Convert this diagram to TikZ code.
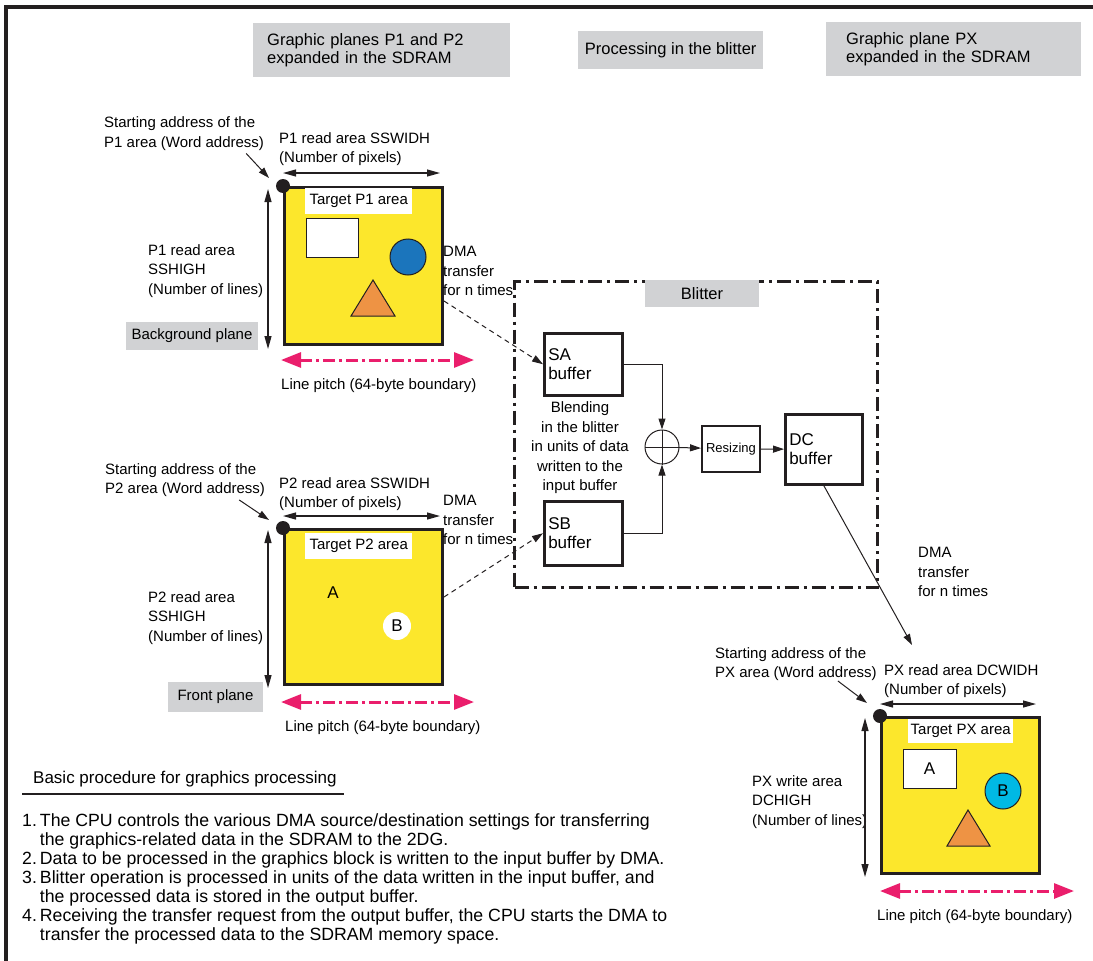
\documentclass[tikz,border=0pt]{standalone}
\usepackage{fontspec}
\setmainfont{Liberation Sans}
\usetikzlibrary{arrows.meta, positioning, calc}
\definecolor{hdrgray}{HTML}{D1D2D4}
\definecolor{planeyellow}{HTML}{FCE72C}
\definecolor{dotblue}{HTML}{1B75BC}
\definecolor{dotcyan}{HTML}{00B9E4}
\definecolor{triorange}{HTML}{EE9344}
\definecolor{pitchpink}{HTML}{EA1E6C}
\definecolor{inkblack}{HTML}{231F20}

\begin{document}
\begin{tikzpicture}[
    x=1pt, y=-1pt,
    hdr/.style={fill=hdrgray, inner sep=0pt, font=\fontsize{16.5}{18}\selectfont},
    lbl/.style={inner sep=0pt, align=left, font=\fontsize{15}{19.5}\selectfont},
    plane/.style={draw=inkblack, line width=3pt, fill=planeyellow, minimum width=158pt, minimum height=157pt, inner sep=0pt, anchor=north west},
    corner/.style={circle, fill=inkblack, minimum size=14pt, inner sep=0pt},
    tgt/.style={fill=white, inner sep=0pt, minimum width=107pt, minimum height=26pt, anchor=north west, font=\fontsize{15}{18}\selectfont},
    obj/.style={draw=inkblack, line width=1pt, inner sep=0pt, font=\fontsize{17}{18}\selectfont},
    buf/.style={draw=inkblack, line width=2.5pt, align=left, inner ysep=0pt, inner xsep=4pt, text width=70pt, anchor=north west, font=\fontsize{17}{18.5}\selectfont},
    arr/.style={-{Triangle[length=11pt,width=7pt]}, line width=1pt, inkblack},
    dimarr/.style={{Triangle[length=13pt,width=7pt]}-{Triangle[length=13pt,width=7pt]}, line width=1.2pt, inkblack},
    pitch/.style={{Triangle[length=20pt,width=15pt]}-{Triangle[length=20pt,width=15pt]}, line width=3pt, pitchpink, dash pattern=on 12pt off 4pt on 3pt off 4pt},
    dma/.style={-{Triangle[length=11pt,width=7pt]}, line width=1pt, inkblack, dash pattern=on 5pt off 4pt}
]
\useasboundingbox (0,0) rectangle (1093,961);
\draw[line width=3.5pt, inkblack] (6,961) -- (6,7) -- (1093,7);

% headers
\node[hdr, anchor=north west, minimum width=257pt, minimum height=54pt, text width=229pt, inner xsep=14pt, align=left] (h1) at (253,23) {Graphic planes P1 and P2\\expanded in the SDRAM};
\node[hdr, anchor=north west, minimum width=185pt, minimum height=38pt] (h2) at (578,31) {Processing in the blitter};
\node[hdr, anchor=north west, minimum width=255pt, minimum height=54pt, text width=215pt, inner xsep=20pt, align=left] (h3) at (826,22) {Graphic plane PX\\expanded in the SDRAM};

% background plane P1
\node[plane] (p1) at (283,186) {};
\node[corner] (c1) at (p1.north west) {};
\node[tgt] (t1) at (305,188) {Target P1 area};
\node[obj, fill=white, minimum width=52pt, minimum height=39pt] (r1) at (332,237.5) {};
\node[obj, circle, fill=dotblue, minimum size=36pt] (o1) at (408,257) {};
\filldraw[fill=triorange, draw=inkblack, line width=1pt] (373,280) -- (395,316) -- (351,316) -- cycle;
\node[lbl, anchor=west] (sa1) at (104,133.5) {Starting address of the\\P1 area (Word address)};
\coordinate[above left=8pt and 14pt of c1.center] (tip1);
\draw[arr] ([xshift=-18pt,yshift=-3pt]sa1.south east) -- (tip1);
\node[lbl, above right=20pt and -4pt of p1.north west] (w1) {P1 read area SSWIDH\\(Number of pixels)};
\draw[dimarr] ([yshift=13pt]p1.north west) -- ([xshift=-4pt,yshift=13pt]p1.north east);
\node[lbl, anchor=west] (hg1) at (148,271) {P1 read area\\SSHIGH\\(Number of lines)};
\draw[dimarr] ([xshift=-15pt,yshift=-3pt]p1.north west) -- ([xshift=-15pt,yshift=-3pt]p1.south west);
\node[hdr, minimum width=132pt, minimum height=28pt] (bg) at (192,336) {\fontsize{15}{18}\selectfont Background plane};
\draw[pitch] ([xshift=-2pt,yshift=-14pt]p1.south west) -- ([xshift=30pt,yshift=-14pt]p1.south east);
\node[lbl, below right=32pt and -2pt of p1.south west] (lp1) {Line pitch (64-byte boundary)};
\node[lbl, anchor=west] (dm1) at (443,271) {DMA\\transfer\\for n times};

% front plane P2
\node[plane, minimum height=155pt] (p2) at (283,528) {};
\node[corner] (c2) at (p2.north west) {};
\node[tgt] (t2) at (305,533) {Target P2 area};
\node[inner sep=0pt, font=\fontsize{17}{18}\selectfont] (a2) at (333,593) {A};
\node[circle, fill=white, minimum size=28pt, inner sep=0pt, font=\fontsize{17}{18}\selectfont] (b2) at (397,626) {B};
\node[lbl, anchor=west] (sa2) at (105,480) {Starting address of the\\P2 area (Word address)};
\coordinate[above left=8pt and 14pt of c2.center] (tip2);
\draw[arr] ([xshift=-26pt,yshift=-3pt]sa2.south east) -- (tip2);
\node[lbl, above right=17pt and -4pt of p2.north west] (w2) {P2 read area SSWIDH\\(Number of pixels)};
\draw[dimarr] ([yshift=12pt]p2.north west) -- ([xshift=-4pt,yshift=12pt]p2.north east);
\node[lbl, anchor=west] (hg2) at (148,618) {P2 read area\\SSHIGH\\(Number of lines)};
\draw[dimarr] ([xshift=-15pt,yshift=-2pt]p2.north west) -- ([xshift=-15pt,yshift=-2pt]p2.south west);
\node[hdr, minimum width=95pt, minimum height=30pt] (fp) at (215.5,697) {\fontsize{15}{18}\selectfont Front plane};
\draw[pitch] ([xshift=-2pt,yshift=-16pt]p2.south west) -- ([xshift=30pt,yshift=-16pt]p2.south east);
\node[lbl, below right=34pt and 2pt of p2.south west] (lp2) {Line pitch (64-byte boundary)};
\node[lbl, anchor=west] (dm2) at (443,520) {DMA\\transfer\\for n times};

% blitter
\node[draw=inkblack, line width=3pt, dash pattern=on 14pt off 5pt on 3pt off 5pt, minimum width=363pt, minimum height=306pt, inner sep=0pt, anchor=north west] (blt) at (513,280) {};
\node[hdr, minimum width=114pt, minimum height=27pt, anchor=north] (bh) at (702,280) {Blitter};
\node[buf, minimum height=62pt] (sa) at (543,332) {SA\\buffer};
\node[buf, minimum height=64pt] (sb) at (543,500) {SB\\buffer};
\node[lbl, align=center] (blend) at (580,448) {Blending\\in the blitter\\in units of data\\written to the\\input buffer};
\node[circle, draw=inkblack, line width=1pt, minimum size=34pt, inner sep=0pt] (sum) at (662,447) {};
\draw[line width=1pt, inkblack] (sum.north) -- (sum.south) (sum.west) -- (sum.east);
\node[draw=inkblack, line width=2pt, minimum width=58pt, minimum height=46pt, inner sep=0pt, anchor=north west, font=\fontsize{13}{15}\selectfont] (rs) at (701,425) {Resizing};
\node[buf, minimum height=70pt, text width=69pt] (dc) at (784,413) {DC\\buffer};

\draw[dma] ([yshift=-35pt]p1.east) -- (sa.west);
\draw[dma] ([yshift=10pt]p2.east) -- (sb.west);
\draw[arr] (sa.east) -| (sum.north);
\draw[arr] (sb.east) -| (sum.south);
\draw[arr] (sum) -- (rs);
\draw[arr] (rs) -- (dc);

% graphic plane PX
\node[plane, minimum height=156pt] (px) at (880,716) {};
\node[corner] (cx) at (px.north west) {};
\node[tgt, minimum width=105pt, minimum height=24pt] (tx) at (908,719) {Target PX area};
\node[obj, fill=white, minimum width=53pt, minimum height=39pt] (ax) at (929.5,768.5) {A};
\node[obj, circle, fill=dotcyan, minimum size=36pt] (bx) at (1003,791) {B};
\filldraw[fill=triorange, draw=inkblack, line width=1pt] (968,810) -- (990,846) -- (947,846) -- cycle;
\node[lbl, anchor=west] (sax) at (715,664) {Starting address of the\\PX area (Word address)};
\coordinate[above left=13pt and 13pt of cx.center] (tipx);
\draw[arr] ([xshift=-39pt,yshift=0pt]sax.south east) -- (tipx);
\node[lbl, above right=18pt and 4pt of px.north west] (wx) {PX read area DCWIDH\\(Number of pixels)};
\draw[dimarr] ([yshift=12pt]px.north west) -- ([xshift=-5pt,yshift=12pt]px.north east);
\node[lbl, anchor=west] (hgx) at (752,802) {PX write area\\DCHIGH\\(Number of lines)};
\draw[dimarr] ([xshift=-15pt,yshift=-2pt]px.north west) -- ([xshift=-15pt,yshift=-2pt]px.south west);
\draw[pitch] ([yshift=-16pt]px.south west) -- ([xshift=33pt,yshift=-16pt]px.south east);
\node[lbl, below right=34pt and -3pt of px.south west] (lpx) {Line pitch (64-byte boundary)};
\coordinate (dmatip) at (912,645);
\draw[arr] (dc.south) -- (dmatip);
\node[lbl, anchor=west] (dmx) at (918,572) {DMA\\transfer\\for n times};

% procedure
\node[lbl, anchor=west, font=\fontsize{17}{19}\selectfont] (bp) at (33,779) {Basic procedure for graphics processing};
\draw[line width=2.5pt, inkblack] ([xshift=-11pt,yshift=-7pt]bp.south west) -- ([xshift=7pt,yshift=-7pt]bp.south east);
\node[lbl, anchor=north west, font=\fontsize{17.7}{19}\selectfont] (steps) at (22,813) {%
\begin{tabular}{@{}l@{\hspace{3pt}}l@{}}
1. & The CPU controls the various DMA source/destination settings for transferring\\
   & the graphics-related data in the SDRAM to the 2DG.\\
2. & Data to be processed in the graphics block is written to the input buffer by DMA.\\
3. & Blitter operation is processed in units of the data written in the input buffer, and\\
   & the processed data is stored in the output buffer.\\
4. & Receiving the transfer request from the output buffer, the CPU starts the DMA to\\
   & transfer the processed data to the SDRAM memory space.
\end{tabular}};
\end{tikzpicture}
\end{document}
